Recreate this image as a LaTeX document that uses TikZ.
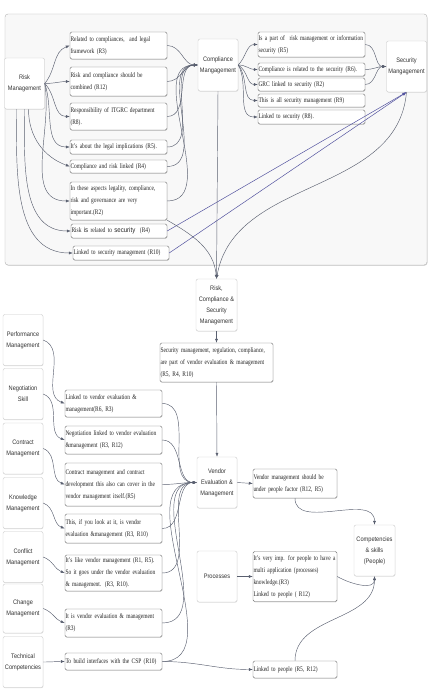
\documentclass[tikz,border=0pt]{standalone}
\usepackage{fontspec}
\usetikzlibrary{arrows.meta,shadows}
\newfontfamily\quotefont[FakeStretch=0.78]{Liberation Serif}
\newfontfamily\topicfont[FakeStretch=0.87]{Liberation Sans}
\newcommand\qfont{\quotefont\fontsize{7}{12}\selectfont\hyphenpenalty=10000\exhyphenpenalty=10000}
\newcommand\tfont{\topicfont\fontsize{6.5}{11}\selectfont}
\newcommand\sw[1]{{\topicfont #1}}

\definecolor{linkgray}{RGB}{90,96,112}
\definecolor{linkblue}{RGB}{84,84,160}
\definecolor{framefill}{RGB}{248,248,248}

\tikzset{
  topic/.style={draw=gray!40, fill=white, rounded corners=2pt, align=center,
    font=\tfont, text=black!80, minimum width=40pt, minimum height=51pt,
    inner sep=1pt, drop shadow={shadow xshift=0.4pt, shadow yshift=-0.6pt, opacity=0.25}},
  quote/.style={draw=black!55, fill=white, rounded corners=1.5pt, align=left,
    font=\qfont, text=black!85, inner sep=0.5pt,
    drop shadow={shadow xshift=0.4pt, shadow yshift=-0.8pt, opacity=0.3}},
  qbox/.style 2 args={quote, text width=#1, minimum height=#2},
  link/.style={->, draw=linkgray, line width=0.45pt},
  seclink/.style={->, draw=linkblue, line width=0.5pt},
}

\begin{document}
\begin{tikzpicture}[x=1pt, y=1pt, >={Latex[length=4pt,width=3pt]}]
  \useasboundingbox (0,0) rectangle (428,694);

  % rahmen oben
  \draw[gray!60, fill=framefill, rounded corners=3pt,
    drop shadow={shadow xshift=0.5pt, shadow yshift=-0.8pt, opacity=0.3}]
    (5,429) rectangle (427,680);

  % Risk / Compliance / Security
  \node[topic] (rm) at (24.5,610.5) {Risk\\Management};
  \node[topic, minimum height=52pt] (cm) at (218,629) {Compliance\\Mangagement};
  \node[topic] (sm) at (406.5,627.5) {Security\\Mangagement};

  \node[qbox={96pt}{27pt}] (r1) at (118.5,648.5) {Related to compliances,\ \ and legal\\framework (R3)};
  \node[qbox={96pt}{29pt}] (r2) at (118.5,612.5) {Risk and compliance should be\\combined (R12)};
  \node[qbox={96pt}{27pt}] (r3) at (118.5,577.5) {Responsibility of ITGRC department\\(R8).};
  \node[qbox={96pt}{14pt}] (r4) at (118.5,547) {It’s about the legal implications (R5).};
  \node[qbox={96pt}{13pt}] (r5) at (118.5,527.5) {Compliance and risk linked (R4)};
  \node[qbox={96pt}{38pt}] (r6) at (118.5,493) {In these aspects legality, compliance,\\risk and governance are very\\important.(R2)};
  \node[qbox={95pt}{14pt}] (r7) at (119,463) {Risk \sw{is} related to \sw{security}\ \ (R4)};
  \node[qbox={95pt}{14pt}] (r8) at (121,441) {Linked to security management (R10)};

  \node[qbox={106pt}{25pt}] (c1) at (311.5,649.5) {Is a part of\ \ risk management or information\\security (R5)};
  \node[qbox={106pt}{13pt}] (c2) at (311.5,624.5) {Compliance is related to the security (R6).};
  \node[qbox={106pt}{13pt}] (c3) at (311.5,609.5) {GRC linked to security (R2)};
  \node[qbox={106pt}{13pt}] (c4) at (311.5,593.5) {This is all security management (R9)};
  \node[qbox={106pt}{14pt}] (c5) at (311.5,577) {Linked to security (R8).};

  \draw[link] (rm.east) to[out=50,in=200] (r1.west);
  \draw[link] (rm.east) to[out=0,in=180] (r2.west);
  \draw[link] (rm.east) to[out=-45,in=180] (r3.west);
  \draw[link] (rm.east) to[out=-70,in=180] (r4.west);
  \draw[link] (rm.east) to[out=-80,in=180] (r6.west);
  \draw[link] ([xshift=4pt]rm.south) to[out=-90,in=160] (r5.west);
  \draw[link] (rm.south) to[out=-90,in=180] (r7.west);
  \draw[link] ([xshift=-8pt]rm.south) to[out=-90,in=180] (r8.west);

  \foreach \r in {r1,r2,r3,r4,r5,r6}
    \draw[link] (\r.east) to[out=0,in=180] (cm.west);

  \draw[link] (cm.east) to[out=45,in=180] (c1.west);
  \draw[link] (cm.east) to[out=0,in=180] (c2.west);
  \draw[link] (cm.east) to[out=-30,in=180] (c3.west);
  \draw[link] (cm.east) to[out=-50,in=180] (c4.west);
  \draw[link] (cm.east) to[out=-60,in=180] (c5.west);

  \foreach \c in {c1,c2,c3}
    \draw[link] (\c.east) to[out=0,in=180] (sm.west);

  \draw[seclink] (r7.east) -- (sm.south);
  \draw[seclink] (r8.east) -- (sm.south);

  % zusammenfuehrung
  \node[topic, minimum width=41pt, minimum height=52pt] (rcsm) at (216.5,389)
    {Risk,\\Compliance \&\\Security\\Management};
  \node[qbox={112pt}{39pt}] (sec) at (216.5,331.5)
    {Security management, regulation, compliance,\\are part of vendor evaluation \& management\\(R5, R4, R10)};

  \draw[link] (cm.south) -- (rcsm.north);
  \draw[link] (r6.south east) to[out=-30,in=95] (rcsm.north);
  \draw[link] (sm.south) to[out=-95,in=80] (rcsm.north);
  \draw[link] (rcsm.south) -- (sec.north);

  % Vendor
  \node[topic] (perf) at (23,354) {Performance\\Management};
  \node[topic] (nego) at (23,300) {Negotiation\\Skill};
  \node[topic] (contr) at (23,245.5) {Contract\\Management};
  \node[topic] (know) at (23,191) {Knowledge\\Management};
  \node[topic] (confl) at (23,137) {Conflict\\Management};
  \node[topic, minimum height=49pt] (chg) at (23,85.5) {Change\\Management};
  \node[topic] (tech) at (23,32) {Technical\\Competencies};

  \node[qbox={96pt}{27pt}] (v1) at (113.5,290.5) {Linked to vendor evaluation \&\\management(R6, R3)};
  \node[qbox={96pt}{28pt}] (v2) at (113.5,254) {Negotiation linked to vendor evaluation\\\&management (R3, R12)};
  \node[qbox={96pt}{43pt}] (v3) at (113.5,209.5) {Contract management and contract\\development this also can cover in the\\vendor management itself.(R5)};
  \node[qbox={96pt}{29pt}] (v4) at (113.5,165.5) {This, if you look at it, is vendor\\evaluation \&management (R3, R10)};
  \node[qbox={96pt}{36pt}] (v5) at (113.5,121) {It’s like vendor management (R1, R5).\\So it goes under the vendor evaluation\\\& management. (R3, R10).};
  \node[qbox={96pt}{28pt}] (v6) at (113.5,71) {It is vendor evaluation \& management\\(R3)};
  \node[qbox={96pt}{17pt}] (v7) at (113.5,32.5) {To build interfaces with the CSP (R10)};

  \node[topic] (vem) at (217,211.5) {Vendor\\Evaluation \&\\Management};
  \node[qbox={83pt}{29pt}] (vm) at (295,210.5) {Vendor management should be\\under people factor (R12, R5)};
  \node[topic] (proc) at (217,117.5) {Processes};
  \node[qbox={83pt}{50pt}] (pb) at (295,117.5) {It’s very imp. for people to have a\\multi application (processes)\\knowledge.(R3)\\Linked to people ( R12)};
  \node[topic, minimum width=41pt] (comp) at (374.5,143.5) {Competencies\\\& skills\\(People)};
  \node[qbox={83pt}{17pt}] (lp) at (295,24.5) {Linked to people (R5, R12)};

  \draw[link] (perf.east) to[out=-20,in=160] (v1.west);
  \draw[link] (nego.east) to[out=-20,in=160] (v2.west);
  \draw[link] (contr.east) to[out=-20,in=160] (v3.west);
  \draw[link] (know.east) to[out=-20,in=160] (v4.west);
  \draw[link] (confl.east) to[out=-20,in=160] (v5.west);
  \draw[link] (chg.east) to[out=-20,in=160] (v6.west);
  \draw[link] (tech.east) to[out=0,in=180] (v7.west);

  \foreach \v in {v1,v2,v3,v4,v5,v6,v7}
    \draw[link] (\v.east) to[out=0,in=180] (vem.west);

  \draw[link] (sec.south) -- (vem.north);
  \draw[link] (vem.east) -- (vm.west);
  \draw[link] (proc.east) -- (pb.west);
  \draw[link] (vm.south) to[out=-90,in=90] (comp.north);
  \draw[link] (pb.east) to[out=-30,in=-90] (comp.south);
  \draw[link] (lp.north) to[out=90,in=-90] (comp.south);
  \draw[link] (v7.east) to[out=0,in=180] (lp.west);
\end{tikzpicture}
\end{document}
